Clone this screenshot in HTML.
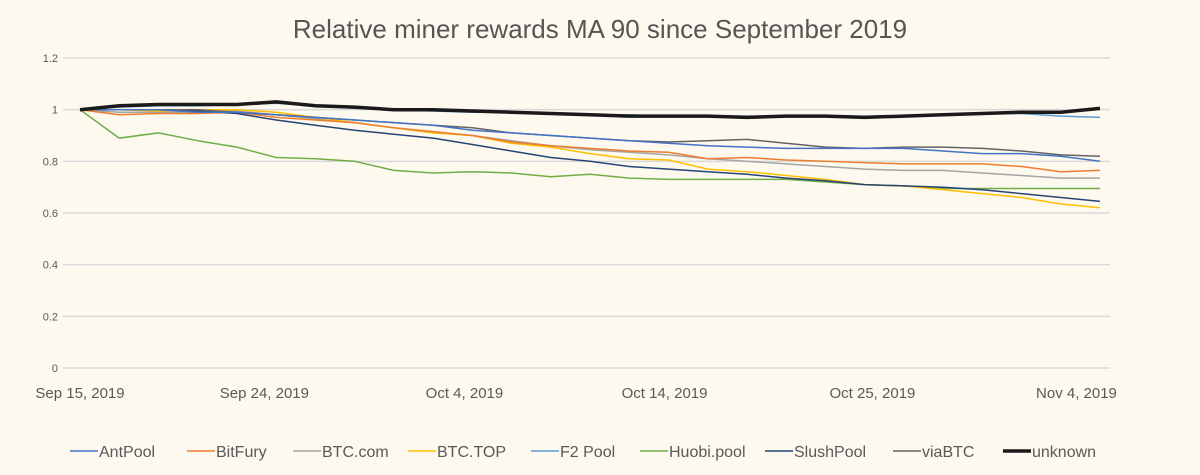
<!DOCTYPE html>
<html><head><meta charset="utf-8"><style>
html,body{margin:0;padding:0;background:#fdf9ee;}
svg{display:block;font-family:"Liberation Sans",sans-serif;}
</style></head><body>
<svg id="chart" width="1200" height="475" viewBox="0 0 1200 475">
<rect width="1200" height="475" fill="#fdf9ee"/>
<text x="600" y="38" text-anchor="middle" font-size="26" fill="#555">Relative miner rewards MA 90 since September 2019</text>
<g id="grid"></g><g id="series"></g><g id="legend"></g>
</svg>
<script>
const xLabels = ["Sep 15, 2019","Sep 24, 2019","Oct 4, 2019","Oct 14, 2019","Oct 25, 2019","Nov 4, 2019"];
const xLabelIdx = [0, 4.7, 9.8, 14.9, 20.2, 25.4];
const yTicks = [0,0.2,0.4,0.6,0.8,1,1.2];
const seriesNames = ["AntPool","BitFury","BTC.com","BTC.TOP","F2 Pool","Huobi.pool","SlushPool","viaBTC","unknown"];
const antpool = [1.0,1.0,1.0,0.99,0.99,0.98,0.97,0.96,0.95,0.94,0.92,0.91,0.9,0.89,0.88,0.87,0.86,0.855,0.85,0.85,0.85,0.85,0.84,0.83,0.83,0.82,0.80];
const bitfury = [1.0,0.98,0.985,0.985,0.99,0.97,0.96,0.95,0.93,0.915,0.9,0.875,0.86,0.85,0.84,0.835,0.81,0.815,0.805,0.8,0.795,0.79,0.79,0.79,0.78,0.76,0.765];
const btccom = [1.0,0.99,0.99,0.99,0.995,0.98,0.965,0.95,0.93,0.91,0.9,0.88,0.86,0.845,0.835,0.825,0.81,0.8,0.79,0.78,0.77,0.765,0.765,0.755,0.745,0.735,0.735];
const btctop = [1.0,1.0,0.995,1.0,1.0,0.99,0.97,0.95,0.93,0.91,0.9,0.87,0.855,0.83,0.81,0.805,0.77,0.76,0.745,0.73,0.71,0.705,0.69,0.675,0.66,0.635,0.62];
const f2pool = [1.0,1.01,1.015,1.015,1.02,1.025,1.015,1.005,1.0,0.995,0.99,0.99,0.985,0.98,0.98,0.975,0.975,0.975,0.975,0.975,0.975,0.975,0.98,0.985,0.985,0.975,0.97];
const huobi = [1.0,0.89,0.91,0.88,0.855,0.815,0.81,0.8,0.765,0.755,0.76,0.755,0.74,0.75,0.735,0.73,0.73,0.73,0.73,0.72,0.71,0.705,0.695,0.695,0.695,0.695,0.695];
const slush = [1.0,1.0,1.0,0.995,0.985,0.96,0.94,0.92,0.905,0.89,0.865,0.84,0.815,0.8,0.78,0.77,0.76,0.75,0.735,0.725,0.71,0.705,0.7,0.69,0.675,0.66,0.645];
const viabtc = [1.0,1.0,1.0,1.0,0.99,0.98,0.97,0.96,0.95,0.94,0.93,0.91,0.9,0.89,0.88,0.875,0.88,0.885,0.87,0.855,0.85,0.855,0.855,0.85,0.84,0.825,0.82];
const unknown = [1.0,1.015,1.02,1.02,1.02,1.03,1.015,1.01,1.0,1.0,0.995,0.99,0.985,0.98,0.975,0.975,0.975,0.97,0.975,0.975,0.97,0.975,0.98,0.985,0.99,0.99,1.005];
const allSeries = [antpool,bitfury,btccom,btctop,f2pool,huobi,slush,viabtc,unknown];
const colors = ["#4472c4","#ed7d31","#a5a5a5","#ffc000","#5b9bd5","#70ad47","#264478","#636363","#1a1a1a"];
const widths = [1.5,1.5,1.5,1.5,1.5,1.5,1.5,1.5,3.5];
const order = [5,2,3,1,6,7,0,4,8];

const NS="http://www.w3.org/2000/svg";
const x0=80,x1=1100,yBase=368,yTop=58;
function xs(i){return x0+i*(x1-x0)/(antpool.length-1);}
function ys(v){return yBase-(v/1.2)*(yBase-yTop);}
function mk(tag,attrs,parent){const e=document.createElementNS(NS,tag);for(const k in attrs)e.setAttribute(k,attrs[k]);parent.appendChild(e);return e;}
const grid=document.getElementById('grid');
yTicks.forEach(t=>{
  const l=mk('line',{x1:63,x2:1110,y1:ys(t),y2:ys(t),stroke:'#d9d9d9','stroke-width':1.5},grid);
  
  
  const tx=mk('text',{x:58,y:ys(t)+4,'text-anchor':'end','font-size':11,fill:'#595959'},grid);
  tx.textContent=String(t);
  
  
});
xLabels.forEach((s,k)=>{
  const tx=mk('text',{x:xs(xLabelIdx[k]),y:398,'text-anchor':'middle','font-size':15,fill:'#595959'},grid);
  tx.textContent=s;
  
  
});
const sg=document.getElementById('series');
order.forEach(si=>{
  const d=allSeries[si].map((v,i)=>(i?'L':'M')+xs(i).toFixed(1)+' '+ys(v).toFixed(1)).join(' ');
  const p=mk('path',{d:d,fill:'none',stroke:colors[si],'stroke-width':widths[si],'stroke-linejoin':'round'},sg);
  
  
});
const lg=document.getElementById('legend');
const lx=[70,187,293,408,531,640,765,893,1003];
seriesNames.forEach((n,i)=>{
  const g=mk('g',{},lg);
  
  
  mk('line',{x1:lx[i],x2:lx[i]+28,y1:451,y2:451,stroke:colors[i],'stroke-width':widths[i]},g);
  const t=mk('text',{x:lx[i]+29,y:457,'font-size':16,fill:'#595959'},g);
  t.textContent=n;
});
</script>
</body></html>
